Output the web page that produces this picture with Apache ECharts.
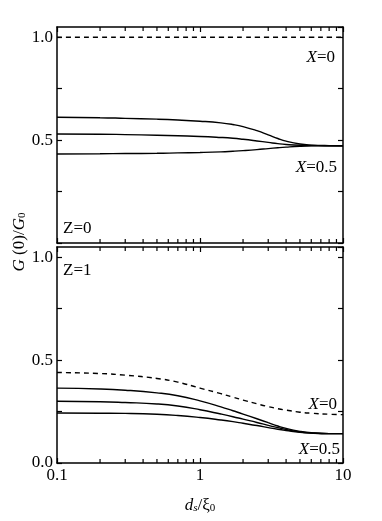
<!DOCTYPE html>
<html><head><meta charset="utf-8">
<script src="https://cdn.jsdelivr.net/npm/echarts@6/dist/echarts.min.js"></script>
<style>html,body{margin:0;padding:0;background:#fff}#c{width:382px;height:521px}</style>
</head><body><div id="c"></div>
<script>
// ---- data ----
const xTickValues = [0.1, 1, 10];
const xTickLabels = ['0.1', '1', '10'];
const yTickValues = [0, 0.5, 1.0];
const yTickLabels = ['0.0', '0.5', '1.0'];
const xMinorTicks = [0.2,0.3,0.4,0.5,0.6,0.7,0.8,0.9,2,3,4,5,6,7,8,9];

const xs = [0.1,0.2,0.3,0.5,0.7,1,1.4,1.7,2,2.5,3,3.5,4,5,6,8,10];
// Z=0 panel
const z0_X0 = [1.0,1.0,1.0,1.0,1.0,1.0,1.0,1.0,1.0,1.0,1.0,1.0,1.0,1.0,1.0,1.0,1.0];
const z0_a  = [0.611,0.609,0.606,0.602,0.598,0.592,0.584,0.576,0.566,0.546,0.526,0.508,0.495,0.481,0.476,0.4735,0.473];
const z0_b  = [0.530,0.529,0.527,0.524,0.521,0.518,0.513,0.509,0.504,0.496,0.489,0.483,0.479,0.475,0.474,0.473,0.473];
const z0_c  = [0.433,0.434,0.435,0.436,0.438,0.440,0.443,0.446,0.449,0.454,0.459,0.463,0.466,0.470,0.472,0.473,0.473];
// Z=1 panel
const z1_X0 = [0.440,0.435,0.427,0.411,0.393,0.364,0.337,0.320,0.306,0.288,0.274,0.264,0.257,0.247,0.242,0.237,0.235];
const z1_a  = [0.364,0.360,0.354,0.341,0.327,0.302,0.273,0.254,0.238,0.215,0.196,0.180,0.168,0.154,0.147,0.143,0.143];
const z1_b  = [0.300,0.298,0.294,0.287,0.277,0.259,0.238,0.225,0.213,0.197,0.183,0.172,0.163,0.151,0.146,0.143,0.143];
const z1_c  = [0.243,0.242,0.241,0.237,0.231,0.221,0.209,0.201,0.193,0.182,0.172,0.164,0.158,0.149,0.145,0.143,0.143];

// ---- chart ----
const FONT = '"Liberation Serif", "Times New Roman", serif';
const FS = 17;
const chart = echarts.init(document.getElementById('c'), null, {renderer: 'canvas'});
const pair = (arr) => xs.map((x, i) => [x, arr[i]]);
const near = (a, b) => Math.abs(a - b) < 1e-6 * Math.max(1, Math.abs(b));

function xAxisDef(grid, pos, labels) {
  return {
    gridIndex: grid, type: 'log', logBase: 10, min: 0.1, max: 10, position: pos,
    axisLine: {onZero: false, lineStyle: {color: '#000', width: 1.5}},
    axisTick: {inside: true, length: 5, lineStyle: {color: '#000', width: 1.2}},
    splitLine: {show: false}, minorTick: {show: false},
    axisLabel: {show: labels, margin: 4, color: '#000', fontFamily: FONT, fontSize: FS,
      formatter: (v) => { for (let i = 0; i < xTickValues.length; i++) if (near(v, xTickValues[i])) return xTickLabels[i]; return ''; }}
  };
}
function yAxisDef(grid, pos, labels, showZero) {
  return {
    gridIndex: grid, type: 'value', min: 0, max: 1.05, interval: 0.25, position: pos,
    axisLine: {onZero: false, lineStyle: {color: '#000', width: 1.5}},
    axisTick: {inside: true, length: 5, lineStyle: {color: '#000', width: 1.2}},
    splitLine: {show: false},
    axisLabel: {show: labels, margin: 4, color: '#000', fontFamily: FONT, fontSize: FS,
      showMaxLabel: false,
      formatter: (v) => {
        for (let i = 0; i < yTickValues.length; i++) {
          if (near(v, yTickValues[i])) { if (i === 0 && !showZero) return ''; return yTickLabels[i]; }
        }
        return '';
      }}
  };
}

function lineSeries(xi, yi, data, dashed) {
  return {
    type: 'line', xAxisIndex: xi, yAxisIndex: yi, data: pair(data), smooth: 0.5,
    showSymbol: false, symbol: 'none', silent: true,
    lineStyle: {color: '#000', width: 1.4, type: dashed ? [5, 4] : 'solid'}
  };
}
function minorTickSeries(xi, yi) {
  return {
    type: 'custom', xAxisIndex: xi, yAxisIndex: yi, silent: true,
    data: xMinorTicks.map(v => [v, 0]),
    renderItem: (params, api) => {
      const cs = params.coordSys;
      const px = api.coord([api.value(0), 0])[0];
      const yb = cs.y + cs.height, yt = cs.y;
      const st = {stroke: '#000', lineWidth: 1.2};
      return {type: 'group', children: [
        {type: 'line', shape: {x1: px, y1: yb, x2: px, y2: yb - 4}, style: st},
        {type: 'line', shape: {x1: px, y1: yt, x2: px, y2: yt + 4}, style: st}
      ]};
    }
  };
}

const txt = (x, y, text, align, rich, extra) => Object.assign({
  type: 'text', x: x, y: y, silent: true,
  style: {text: text, fill: '#000', fontFamily: FONT, fontSize: FS, align: align || 'left', verticalAlign: 'middle',
    rich: rich || {}}
}, extra || {});
const richBase = {
  i: {fontFamily: FONT, fontSize: FS, fontStyle: 'italic', lineHeight: 22, verticalAlign: 'bottom'},
  n: {fontFamily: FONT, fontSize: FS, lineHeight: 22, verticalAlign: 'bottom'},
  s: {fontFamily: FONT, fontSize: 11, lineHeight: 12, verticalAlign: 'bottom'},
  si: {fontFamily: FONT, fontSize: 11, fontStyle: 'italic', lineHeight: 12, verticalAlign: 'bottom'}
};

chart.setOption({
  animation: false,
  backgroundColor: '#fff',
  grid: [
    {left: 57, top: 27, width: 286, height: 216},
    {left: 57, top: 247, width: 286, height: 216}
  ],
  xAxis: [xAxisDef(0, 'bottom', false), xAxisDef(0, 'top', false), xAxisDef(1, 'bottom', true), xAxisDef(1, 'top', false)],
  yAxis: [yAxisDef(0, 'left', true, false), yAxisDef(0, 'right', false, false), yAxisDef(1, 'left', true, true), yAxisDef(1, 'right', false, false)],
  series: [
    lineSeries(0, 0, z0_X0, true),
    lineSeries(0, 0, z0_a, false),
    lineSeries(0, 0, z0_b, false),
    lineSeries(0, 0, z0_c, false),
    lineSeries(2, 2, z1_X0, true),
    lineSeries(2, 2, z1_a, false),
    lineSeries(2, 2, z1_b, false),
    lineSeries(2, 2, z1_c, false),
    minorTickSeries(0, 0),
    minorTickSeries(2, 2)
  ],
  graphic: [
    txt(335, 55, '{i|X}{n|=0}', 'right', richBase),
    txt(337, 165, '{i|X}{n|=0.5}', 'right', richBase),
    txt(63, 226, '{n|Z=0}', 'left', richBase),
    txt(63, 268, '{n|Z=1}', 'left', richBase),
    txt(337, 402, '{i|X}{n|=0}', 'right', richBase),
    txt(340, 447, '{i|X}{n|=0.5}', 'right', richBase),
    txt(200, 503, '{i|d}{si|s}{n|/ξ}{s|0}', 'center', richBase),
    txt(17, 242, '{i|G}{n| (0)/}{i|G}{s|0}', 'center', richBase, {rotation: Math.PI / 2})
  ]
});
</script>
</body></html>
